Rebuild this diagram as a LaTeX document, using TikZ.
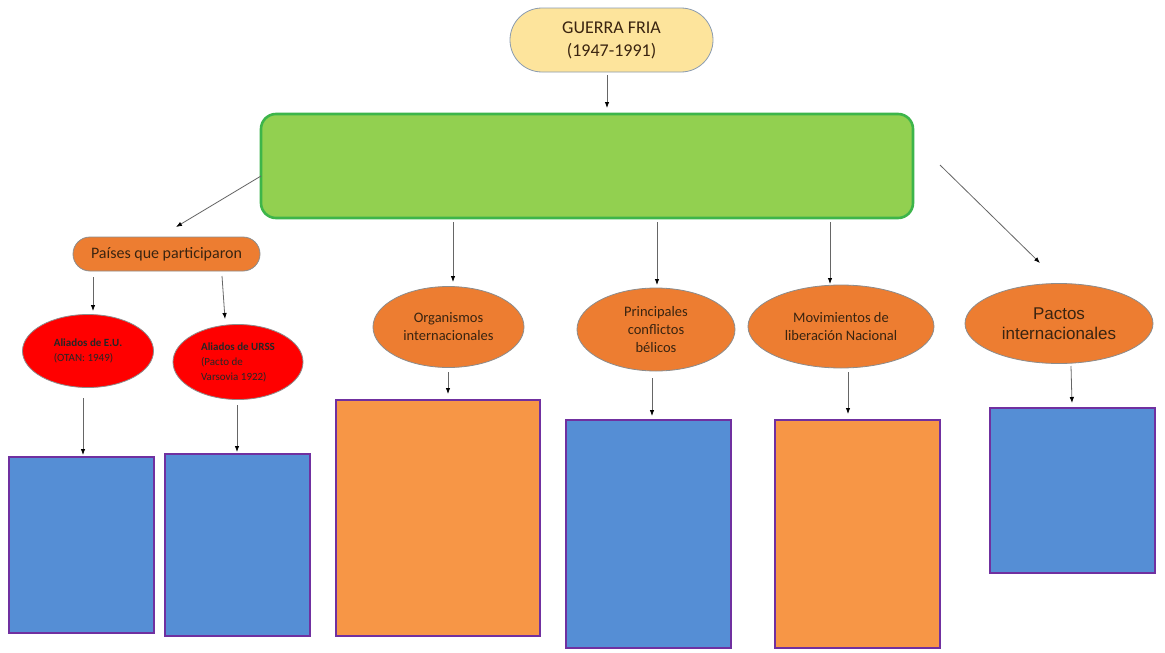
\documentclass[tikz,border=0pt]{standalone}
\usepackage{fontspec}
\setmainfont{Carlito}
\newfontfamily\arialf{Liberation Sans}
\usetikzlibrary{shapes.geometric,arrows.meta}
\definecolor{gfill}{HTML}{FDE49C}
\definecolor{gborder}{HTML}{8A9BB0}
\definecolor{greenf}{HTML}{92D050}
\definecolor{greenb}{HTML}{3DB54A}
\definecolor{orangef}{HTML}{ED7D31}
\definecolor{orangeb}{HTML}{F79646}
\definecolor{bluef}{HTML}{558ED5}
\definecolor{purpleb}{HTML}{7030A0}
\definecolor{txt}{HTML}{3A2410}
\begin{document}
\begin{tikzpicture}[x=1pt,y=-1pt,
  conn/.style={draw=black!60,line width=0.8pt,-{Latex[length=6pt,width=4.5pt,black]}},
  oval/.style={ellipse,draw=black!45,line width=0.8pt,fill=orangef,inner sep=0pt,text=txt,align=center,font=\fontsize{14.5}{18}\selectfont},
  redoval/.style={ellipse,draw=black!45,line width=0.8pt,fill=red,inner sep=0pt,text=black!85,align=left,font=\fontsize{11}{15}\selectfont},
  blk/.style={rectangle,draw=purpleb,line width=2pt,inner sep=0pt},
  bluebox/.style={blk,fill=bluef},
  orangebox/.style={blk,fill=orangeb}]
\useasboundingbox (0,0) rectangle (1165,653);
\fill[white] (0,0) rectangle (1165,653);

% top
\node[rectangle,rounded corners=32pt,draw=gborder,line width=0.8pt,fill=gfill,minimum width=203pt,minimum height=64pt,align=center,text=txt,font=\fontsize{18}{23}\selectfont] (gf) at (611.5,40) {GUERRA FRIA\\(1947-1991)};

\node[rectangle,rounded corners=15pt,draw=greenb,line width=2.6pt,fill=greenf,minimum width=652pt,minimum height=104pt] (green) at (587,166) {};

\node[rectangle,rounded corners=17pt,draw=black!45,line width=0.8pt,fill=orangef,minimum width=187pt,minimum height=34pt,text=txt,font=\fontsize{16}{18}\selectfont] (paises) at (166.5,254) {Países que participaron};

% red ellipses
\node[redoval,minimum width=131pt,minimum height=73pt] (eu) at (88,351) {\textbf{Aliados de E.U.}\\(OTAN: 1949)};
\node[redoval,minimum width=130pt,minimum height=75pt] (urss) at (238,362) {\textbf{Aliados de URSS}\\(Pacto de\\Varsovia 1922)};

% orange ovals
\node[oval,minimum width=151pt,minimum height=81pt] (org) at (448.5,327) {Organismos\\internacionales};
\node[oval,minimum width=158pt,minimum height=83pt] (prin) at (656,329.5) {Principales\\conflictos\\bélicos};
\node[oval,minimum width=186pt,minimum height=83pt] (mov) at (841,326.5) {Movimientos de\\liberación Nacional};
\node[oval,minimum width=188pt,minimum height=80pt,font=\arialf\fontsize{17}{20}\selectfont] (pac) at (1059,323.5) {Pactos\\internacionales};

% boxes
\node[bluebox,minimum width=145pt,minimum height=176pt] (b1) at (81.5,545) {};
\node[bluebox,minimum width=145pt,minimum height=182pt] (b2) at (237.5,545) {};
\node[orangebox,minimum width=204pt,minimum height=236pt] (o1) at (438,518) {};
\node[bluebox,minimum width=165pt,minimum height=228pt] (b3) at (648.5,534) {};
\node[orangebox,minimum width=165pt,minimum height=228pt] (o2) at (857.5,534) {};
\node[bluebox,minimum width=165pt,minimum height=165pt] (b4) at (1072.5,490.5) {};

% connectors
\coordinate (gfs) at (607,75);
\coordinate (gfe) at (607,108);
\draw[conn] (gfs) -- (gfe);
\coordinate (c1s) at (261,176);
\coordinate (c1e) at (176,227);
\draw[conn] (c1s) -- (c1e);
\coordinate (c2s) at (453,222); \coordinate (c2e) at (453,282);
\draw[conn] (c2s) -- (c2e);
\coordinate (c3s) at (657,222); \coordinate (c3e) at (657,285);
\draw[conn] (c3s) -- (c3e);
\coordinate (c4s) at (830,222); \coordinate (c4e) at (830,284);
\draw[conn] (c4s) -- (c4e);
\coordinate (c5s) at (940,165); \coordinate (c5e) at (1040,263);
\draw[conn] (c5s) -- (c5e);

\coordinate (p1s) at (93,277); \coordinate (p1e) at (93,311);
\draw[conn] (p1s) -- (p1e);
\coordinate (p2s) at (222,276); \coordinate (p2e) at (225,319);
\draw[conn] (p2s) -- (p2e);

\coordinate (r1s) at (83,398); \coordinate (r1e) at (83,455);
\draw[conn] (r1s) -- (r1e);
\coordinate (r2s) at (237,405); \coordinate (r2e) at (237,452);
\draw[conn] (r2s) -- (r2e);

\coordinate (o1s) at (448,372); \coordinate (o1e) at (448,394);
\draw[conn] (o1s) -- (o1e);
\coordinate (o2s) at (652,378); \coordinate (o2e) at (652,416);
\draw[conn] (o2s) -- (o2e);
\coordinate (o3s) at (848,372); \coordinate (o3e) at (848,414);
\draw[conn] (o3s) -- (o3e);
\coordinate (o4s) at (1071,366); \coordinate (o4e) at (1072,403);
\draw[conn] (o4s) -- (o4e);
\end{tikzpicture}
\end{document}
